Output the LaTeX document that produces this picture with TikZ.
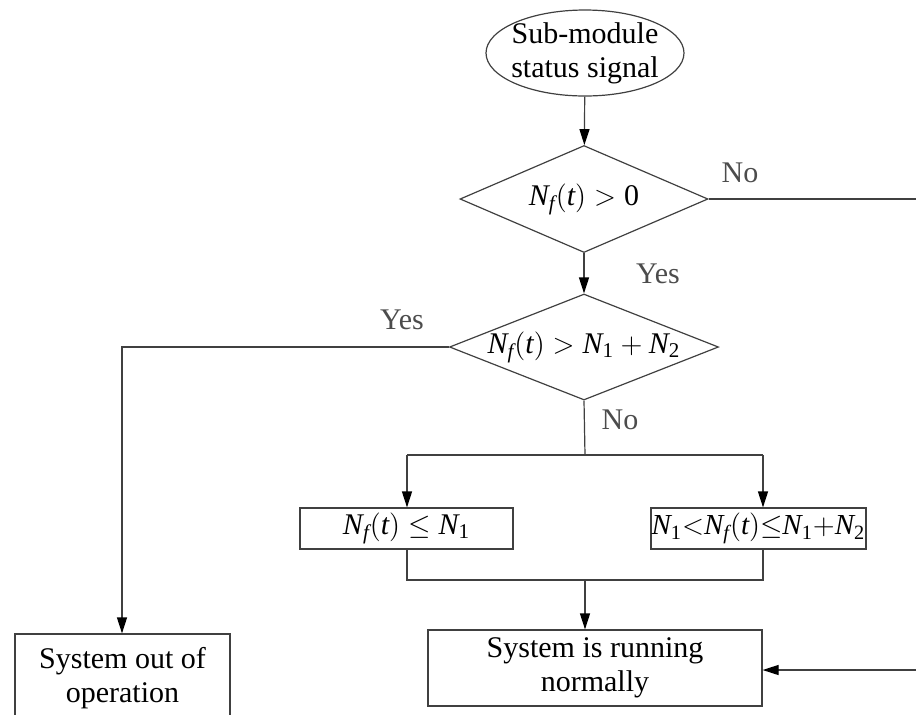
\documentclass[tikz,border=0pt]{standalone}
\usepackage{fontspec}
\setmainfont{Liberation Serif}
\usetikzlibrary{shapes.geometric,arrows.meta}

\newcommand{\Nf}{\mathit{N}_{\mathit{f}}\mathrm{(}\mathit{t}\mathrm{)}}
\newcommand{\Nun}{\mathit{N}_{\mathrm{1}}}
\newcommand{\Ndeux}{\mathit{N}_{\mathrm{2}}}

\tikzset{
  ligne/.style={draw=black!75, line width=0.6pt},
  fleche/.style={ligne, -{Triangle[length=8pt,width=5pt,color=black]}},
  boite/.style={ligne, rectangle, inner sep=0pt, align=center},
  losange/.style={ligne, diamond, inner sep=0pt},
  etiq/.style={text=black!70},
}

\begin{document}
\begin{tikzpicture}[x=0.5pt,y=-0.5pt,every node/.style={font=\fontsize{15}{17}\selectfont}]
        \useasboundingbox (0,0) rectangle (916,714);
        % Signal d'entree
        \node[ligne, ellipse, minimum width=99pt, minimum height=43pt, inner sep=-4pt, align=center] (signal) at (585,53) {Sub-module\\status signal};
        % Tests
        \node[losange, minimum width=124pt, minimum height=53.5pt, label=center:{$\Nf>\mathrm{0}$}] (test1) at (584,199) {};
        \node[losange, minimum width=134.5pt, minimum height=53pt, label=center:{$\Nf>\Nun+\Ndeux$}] (test2) at (584,347) {};
        % Cas
        \node[boite, minimum width=106.5pt, minimum height=20.5pt] (cas1) at (406.5,528.5) {$\Nf\le\Nun$};
        \node[boite, minimum width=107.5pt, minimum height=20.5pt, font=\fontsize{14.5}{17}\selectfont] (cas2) at (758.5,528.5) {$\Nun{<}\Nf{\le}\Nun{+}\Ndeux$};
        % Etats du systeme
        \node[boite, minimum width=167pt, minimum height=38pt] (normal) at (595,668) {System is running\\normally};
        \node[boite, minimum width=107.5pt, minimum height=44pt] (arret) at (122.5,678) {System out of\\operation};
        % Points de passage
        \coordinate (sep) at (585,455);
        \coordinate (sepG) at (407,455);
        \coordinate (sepD) at (763,455);
        \coordinate (joinG) at (407,580);
        \coordinate (joinD) at (763,580);
        \coordinate (join) at (585,580);
        \coordinate (coude) at (122,347);
        \coordinate (bordH) at (918,199);
        \coordinate (bordB) at (918,670);
        % Fleches
        \draw[fleche] (signal) -- (test1);
        \draw[fleche] (test1) -- (test2);
        \draw[fleche] (test2.west) -- (coude) -- (arret.north -| coude);
        \draw[ligne] (test2.south) -- (sep);
        \draw[ligne] (sepG) -- (sepD);
        \draw[fleche] (sepG) -- (sepG |- cas1.north);
        \draw[fleche] (sepD) -- (sepD |- cas2.north);
        \draw[ligne] (joinG |- cas1.south) -- (joinG) -- (joinD) -- (joinD |- cas2.south);
        \draw[fleche] (join) -- (join |- normal.north);
        \draw[ligne] (test1.east) -- (bordH) -- (bordB);
        \draw[fleche] (bordB) -- (normal.east |- bordB);
        % Etiquettes
        \node[etiq] (non1) at (740,173) {No};
        \node[etiq] (oui1) at (658,274) {Yes};
        \node[etiq] (oui2) at (402,320) {Yes};
        \node[etiq] (non2) at (620,420) {No};
\end{tikzpicture}
\end{document}
